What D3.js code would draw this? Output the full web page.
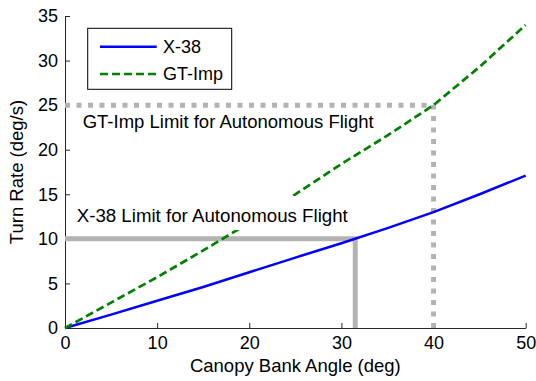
<!DOCTYPE html>
<html>
<head>
<meta charset="utf-8">
<script src="https://cdn.jsdelivr.net/npm/d3@7"></script>
<style>
  body { margin: 0; background: #fff; }
  text { font-family: "Liberation Sans", Arial, Helvetica, sans-serif; fill: #000; }
</style>
</head>
<body>
<div id="wrapper"></div>
<script>
// values
const bankAngle = [0, 5, 10, 15, 20, 25, 30, 35, 40, 45, 50];
const x38Rate = [0, 1.5, 3.05, 4.6, 6.25, 7.9, 9.5, 11.2, 13, 15, 17.1];
const gtImpRate = [0, 2.85, 5.7, 8.7, 11.8, 15.0, 18.4, 21.6, 25, 29.3, 34];
const xTicks = [0, 10, 20, 30, 40, 50];
const yTicks = [0, 5, 10, 15, 20, 25, 30, 35];
const seriesNames = ["X-38", "GT-Imp"];
const x38Limit = [31.5, 10];   // bank angle, turn rate
const gtImpLimit = [40, 25];

function draw() {
    const parent = d3.select("#wrapper");
    parent.selectAll("*").remove();

    const width = 536, height = 381;
    const margin = {left: 65, right: 10.3, top: 16, bottom: 53};

    const svg = parent.append("svg")
        .attr("width", width)
        .attr("height", height);

    const x = d3.scaleLinear().domain([0, 50]).range([margin.left, width - margin.right]);
    const y = d3.scaleLinear().domain([0, 35]).range([height - margin.bottom, margin.top]);

    // axes (ticks pointing inward, no box)
    const xAxis = d3.axisBottom(x).tickValues(xTicks).tickSizeInner(-5).tickSizeOuter(0).tickPadding(8);
    const yAxis = d3.axisLeft(y).tickValues(yTicks).tickSizeInner(-5).tickSizeOuter(0).tickPadding(7);

    const gx = svg.append("g")
        .attr("transform", "translate(0," + y(0) + ")")
        .call(xAxis);
    const gy = svg.append("g")
        .attr("transform", "translate(" + x(0) + ",0)")
        .call(yAxis);
    [gx, gy].forEach(g => {
        g.selectAll("path, line").attr("stroke", "#262626").attr("stroke-width", 1);
        g.selectAll("text").style("font-size", "18px").attr("fill", "#000")
            .style("font-family", "'Liberation Sans', Arial, sans-serif");
    });

    // limit lines
    const limitLine = d3.line().x(d => x(d[0])).y(d => y(d[1]));
    svg.append("path")
        .attr("d", limitLine([[0, gtImpLimit[1]], gtImpLimit, [gtImpLimit[0], 0]]))
        .attr("fill", "none")
        .attr("stroke", "#b3b3b3")
        .attr("stroke-width", 5)
        .attr("stroke-dasharray", "5,6.5");
    svg.append("path")
        .attr("d", limitLine([[0, x38Limit[1]], x38Limit, [x38Limit[0], 0]]))
        .attr("fill", "none")
        .attr("stroke", "#b3b3b3")
        .attr("stroke-width", 5)
        .attr("stroke-linejoin", "miter");

    // data lines
    const line = d3.line().x((d, i) => x(bankAngle[i])).y(d => y(d));
    svg.append("path")
        .attr("d", line(x38Rate))
        .attr("fill", "none")
        .attr("stroke", "#0000ff")
        .attr("stroke-width", 2.5);
    svg.append("path")
        .attr("d", line(gtImpRate))
        .attr("fill", "none")
        .attr("stroke", "#008000")
        .attr("stroke-width", 2.7)
        .attr("stroke-dasharray", "8,4");

    // annotations (text with white background, like the original)
    const x38Label = svg.append("g");
    x38Label.append("rect")
        .attr("x", 72).attr("y", 196)
        .attr("width", 282).attr("height", 34)
        .attr("fill", "#fff");
    x38Label.append("text")
        .attr("x", 76.7).attr("y", 221.7)
        .style("font-size", "18.7px")
        .text("X-38 Limit for Autonomous Flight");

    svg.append("text")
        .attr("x", 82.7).attr("y", 128.3)
        .style("font-size", "18.5px")
        .text("GT-Imp Limit for Autonomous Flight");

    // axis labels
    svg.append("text")
        .attr("x", (x(0) + x(50)) / 2)
        .attr("y", 372)
        .attr("text-anchor", "middle")
        .style("font-size", "18.5px")
        .text("Canopy Bank Angle (deg)");
    svg.append("text")
        .attr("transform", "translate(23," + (y(0) + y(35)) / 2 + ") rotate(-90)")
        .attr("text-anchor", "middle")
        .style("font-size", "18.5px")
        .text("Turn Rate (deg/s)");

    // legend
    const legend = svg.append("g");
    legend.append("rect")
        .attr("x", 87.7).attr("y", 28.3)
        .attr("width", 144).attr("height", 61)
        .attr("fill", "#fff")
        .attr("stroke", "#000")
        .attr("stroke-width", 1);
    const legendStyles = [
        {color: "#0000ff", dash: null, ly: 46.7},
        {color: "#008000", dash: "8,4", ly: 74}
    ];
    seriesNames.forEach((name, i) => {
        const s = legendStyles[i];
        legend.append("line")
            .attr("x1", 100).attr("x2", 156.7)
            .attr("y1", s.ly).attr("y2", s.ly)
            .attr("stroke", s.color)
            .attr("stroke-width", 2.5)
            .attr("stroke-dasharray", s.dash);
        legend.append("text")
            .attr("x", 163).attr("y", s.ly + 6.3)
            .style("font-size", "18px")
            .text(name);
    });
}
draw();
</script>
</body>
</html>
